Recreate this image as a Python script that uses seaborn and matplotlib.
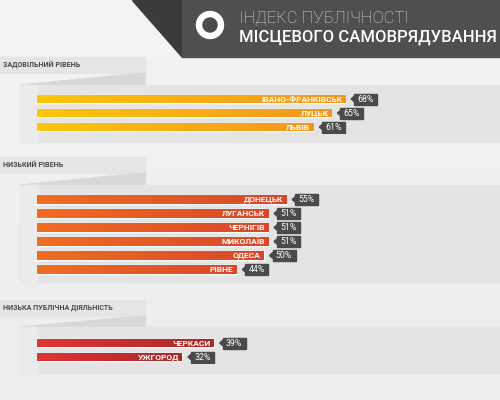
import numpy as np
import pandas as pd
import matplotlib.pyplot as plt
import seaborn as sns
from matplotlib.patches import Rectangle, Polygon, Circle
from matplotlib.colors import to_rgb

# data
title_1 = "ІНДЕКС ПУБЛІЧНОСТІ"
title_2 = "МІСЦЕВОГО САМОВРЯДУВАННЯ"
group_names = ["ЗАДОВІЛЬНИЙ РІВЕНЬ", "НИЗЬКИЙ РІВЕНЬ", "НИЗЬКА ПУБЛІЧНА ДІЯЛЬНІСТЬ"]
cities_1 = ["ІВАНО-ФРАНКІВСЬК", "ЛУЦЬК", "ЛЬВІВ"]
values_1 = [68, 65, 61]
cities_2 = ["ДОНЕЦЬК", "ЛУГАНСЬК", "ЧЕРНІГІВ", "МИКОЛАЇВ", "ОДЕСА", "РІВНЕ"]
values_2 = [55, 51, 51, 51, 50, 44]
cities_3 = ["ЧЕРКАСИ", "УЖГОРОД"]
values_3 = [39, 32]

# layout (pixels)
W, H = 500, 400
X0 = 37          # bar origin
PX = 4.53        # pixels per percent
STEP = 14        # pixels between bars
groups = [
    dict(cities=cities_1, values=values_1, name=group_names[0], tab=57,
         panel=(85, 142), first=99, colors=("#fdc60c", "#f3961e")),
    dict(cities=cities_2, values=values_2, name=group_names[1], tab=157,
         panel=(185, 282), first=199.5, colors=("#f06e22", "#d8472a")),
    dict(cities=cities_3, values=values_3, name=group_names[2], tab=300,
         panel=(327, 373), first=343, colors=("#e03535", "#ab2929")),
]

sns.set_style("white")
plt.rcParams["font.family"] = ["Roboto", "DejaVu Sans"]

fig = plt.figure(figsize=(5, 4), dpi=100)
bg = fig.add_axes([0, 0, 1, 1])
bg.set_xlim(0, W)
bg.set_ylim(H, 0)
bg.axis("off")

# background
grad = np.linspace(0, 1, 200)[:, None] * np.ones((1, 10))
bg.imshow(grad, extent=(0, W, H, 0), cmap=sns.blend_palette(["#f4f4f4", "#ededed"], as_cmap=True),
          aspect="auto", zorder=0)

# header
bg.add_patch(Polygon([(132, 0), (182, 0), (182, 57)], color="#3a3b3b", zorder=1))
bg.add_patch(Rectangle((182, 0), W - 182, 57, color="#4e504f", zorder=1))
bg.add_patch(Circle((210, 25), 13.5, color="white", zorder=2))
bg.add_patch(Circle((210, 25), 7, color="#4a4c4b", zorder=3))
bg.text(239, 18, title_1, fontsize=12, color="#dcdcdc", fontweight="light",
        va="center", ha="left", zorder=3)
bg.text(239, 37.5, title_2, fontsize=12, color="white", fontweight="medium",
        va="center", ha="left", zorder=3)

for g in groups:
    top, bottom = g["panel"]
    tab = g["tab"]
    bg.add_patch(Rectangle((0, tab), 145, 16, color="#e5e5e5", zorder=1))
    bg.add_patch(Polygon([(20, top), (145, tab + 16), (145, top)], color="#d8d8d8", zorder=1))
    bg.add_patch(Rectangle((20, top), W - 20, bottom - top, color="#e4e4e4", zorder=1))
    bg.add_patch(Rectangle((20, top), X0 - 20, bottom - top, color="#ebebeb", zorder=1))
    bg.text(3, tab + 8, g["name"], fontsize=5.1, color="#484848",
            fontweight="bold", ha="left", va="center", zorder=2)

    n = len(g["values"])
    y_top = g["first"] - STEP / 2
    y_bot = y_top + n * STEP
    ax = fig.add_axes([0, 1 - y_bot / H, 1, (y_bot - y_top) / H])
    ax.patch.set_alpha(0)
    df = pd.DataFrame({"city": g["cities"], "value": g["values"]})
    sns.barplot(data=df, x="value", y="city", orient="h", color=g["colors"][1],
                saturation=1, width=0.62, ax=ax)
    bars = list(ax.patches)
    c0, c1 = np.array(to_rgb(g["colors"][0])), np.array(to_rgb(g["colors"][1]))
    t = np.linspace(0, 1, 256)[None, :, None]
    img = c0 + (c1 - c0) * t
    for bar in bars:
        x, y, w, h = bar.get_x(), bar.get_y(), bar.get_width(), bar.get_height()
        im = ax.imshow(img, extent=(x, x + w, y + h, y), aspect="auto", zorder=2)
        im.set_clip_path(bar)

    dx = 1 / PX
    dy = 1 / STEP
    for i, (city, v) in enumerate(zip(g["cities"], g["values"])):
        ax.text(v - 3 * dx, i + 0.03, city, ha="right", va="center", color="white",
                fontsize=6.0, fontweight="bold", zorder=4)
        ax.add_patch(Polygon([(v + 6 * dx, i), (v + 9.5 * dx, i - 3 * dy), (v + 9.5 * dx, i + 3 * dy)],
                             color="#4a4a4a", zorder=3))
        ax.add_patch(Rectangle((v + 9 * dx, i - 5.5 * dy), 23 * dx, 11 * dy,
                               color="#4a4a4a", zorder=3))
        ax.text(v + 20.5 * dx, i + 0.03, f"{v}%", ha="center", va="center", color="white",
                fontsize=6.3, zorder=4)

    ax.set_xlim(-X0 / PX, (W - X0) / PX)
    ax.set_ylim(n - 0.5, -0.5)
    ax.axis("off")

fig.savefig("out.png", dpi=100)
